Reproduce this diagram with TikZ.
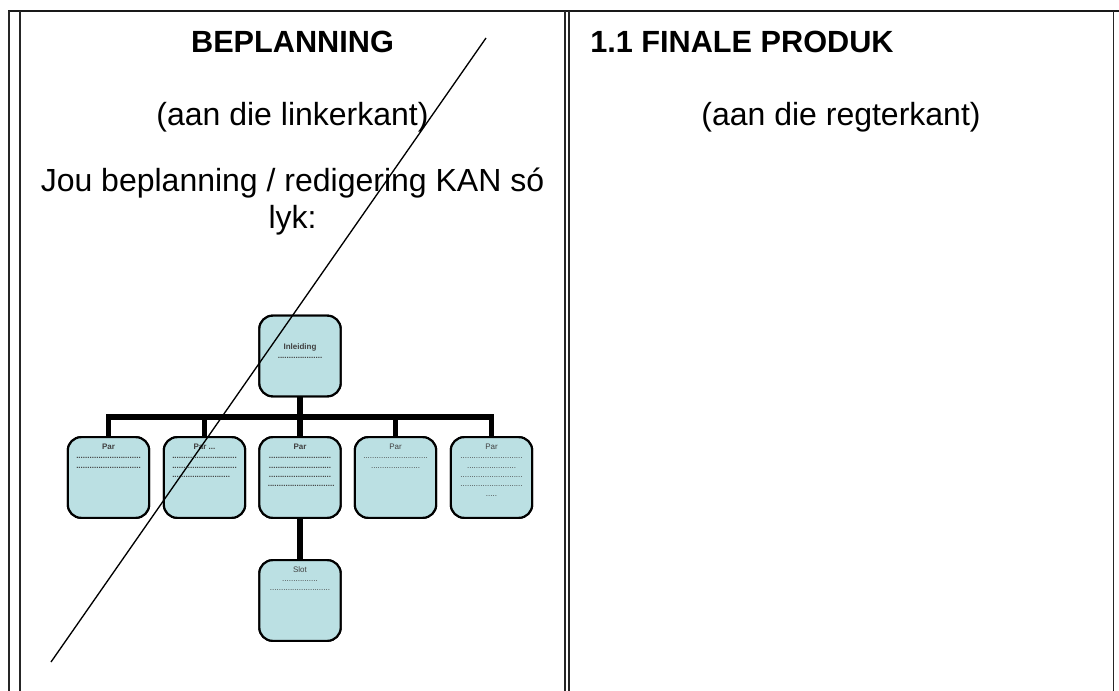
\documentclass[tikz,border=0pt]{standalone}
\usepackage{fontspec}
\setmainfont{Liberation Sans}
\newcommand{\drow}[1]{\foreach \n in {1,...,#1}{.}}
\definecolor{boxfill}{RGB}{187,224,227}
\begin{document}
\begin{tikzpicture}[x=0.75pt,y=-0.75pt,
  border/.style={line width=1.3pt, draw=black!85},
  topline/.style={line width=1.7pt, draw=black!90},
  orgbox/.style={draw=black, line width=1.6pt, fill=boxfill, rounded corners=10pt,
    minimum width=61pt, minimum height=60.5pt, inner sep=0pt},
  conn/.style={line width=4.2pt, draw=black},
  small/.style={font=\fontsize{6}{7}\selectfont, text=black!75, inner sep=0pt, align=center, anchor=north},
  smallb/.style={small, font=\fontsize{6}{7}\selectfont\bfseries},
  titletext/.style={font=\fontsize{23}{27}\selectfont\bfseries, inner sep=0pt},
  bodytext/.style={font=\fontsize{24}{28}\selectfont, inner sep=0pt}
]
\useasboundingbox (0,0) rectangle (1119,691);
\fill[white] (0,0) rectangle (1119,691);

% table borders
\draw[topline] (8,11) -- (1119,11);
\draw[border] (9,11) -- (9,691);
\draw[border] (20,11) -- (20,691);
\draw[border] (565,11) -- (565,691);
\draw[border] (569,11) -- (569,691);
\draw[border] (1113.5,11) -- (1113.5,691);

% headings
\node[titletext, anchor=base] (beplan) at (292.5,53) {BEPLANNING};
\node[bodytext, anchor=base] (linker) at (292.5,126) {(aan die linkerkant)};
\node[bodytext, anchor=base] (jou) at (292.5,192) {Jou beplanning / redigering KAN só};
\node[bodytext, anchor=base] (lyk) at (292.5,229) {lyk:};
\node[titletext, anchor=base west] (finale) at (590,53) {1.1 FINALE PRODUK};
\node[bodytext, anchor=base] (regter) at (841,126) {(aan die regterkant)};

% org chart boxes
\coordinate (bus) at (300,417);
\node[orgbox] (inl) at (300,356) {};
\node[orgbox] (b1) at (108.5,477.5) {};
\node[orgbox] (b2) at (204.5,477.5) {};
\node[orgbox] (b3) at (300,477.5) {};
\node[orgbox] (b4) at (395.5,477.5) {};
\node[orgbox] (b5) at (491.5,477.5) {};
\node[orgbox] (slot) at (300,600.5) {};

% connectors
\begin{scope}[on background layer/.style={}]
\draw[conn] (inl.south) -- (bus);
\draw[conn, line join=miter] (b1.north) |- (bus) -| (b5.north);
\draw[conn] (b2.north) -- (b2.north |- bus);
\draw[conn] (b4.north) -- (b4.north |- bus);
\draw[conn] (bus) -- (b3.north);
\draw[conn] (b3.south) -- (slot.north);
\end{scope}
% redraw boxes over connector ends
\node[orgbox] at (inl) {};
\node[orgbox] at (b1) {};
\node[orgbox] at (b2) {};
\node[orgbox] at (b3) {};
\node[orgbox] at (b4) {};
\node[orgbox] at (b5) {};
\node[orgbox] at (slot) {};

% box texts
\node[smallb] (tinl) at (300,343.2) {Inleiding\\\drow{20}};
\node[smallb] (t1) at (108.5,443.7) {Par\\\drow{29}\\\drow{29}};
\node[smallb] (t2) at (204.5,443.7) {Par ...\\\drow{29}\\\drow{29}\\\drow{26}\phantom{...}};
\node[smallb] (t3) at (300,443.7) {Par\\\drow{28}\\\drow{28}\\\drow{28}\\\phantom{.}\drow{30}};
\node[small] (t4) at (395.5,443.7) {Par\\\drow{29}\\\drow{22}};
\node[small] (t5) at (491.5,443.7) {Par\\\drow{28}\\\drow{22}\\\drow{28}\\\drow{28}\\\drow{5}};
\node[small] (tslot) at (300,566) {Slot\\\drow{16}\\\drow{27}};

% diagonal strike line
\coordinate (d1) at (51,662);
\coordinate (d2) at (486,38);
\draw[line width=1pt] (d1) -- (d2);
\end{tikzpicture}
\end{document}
